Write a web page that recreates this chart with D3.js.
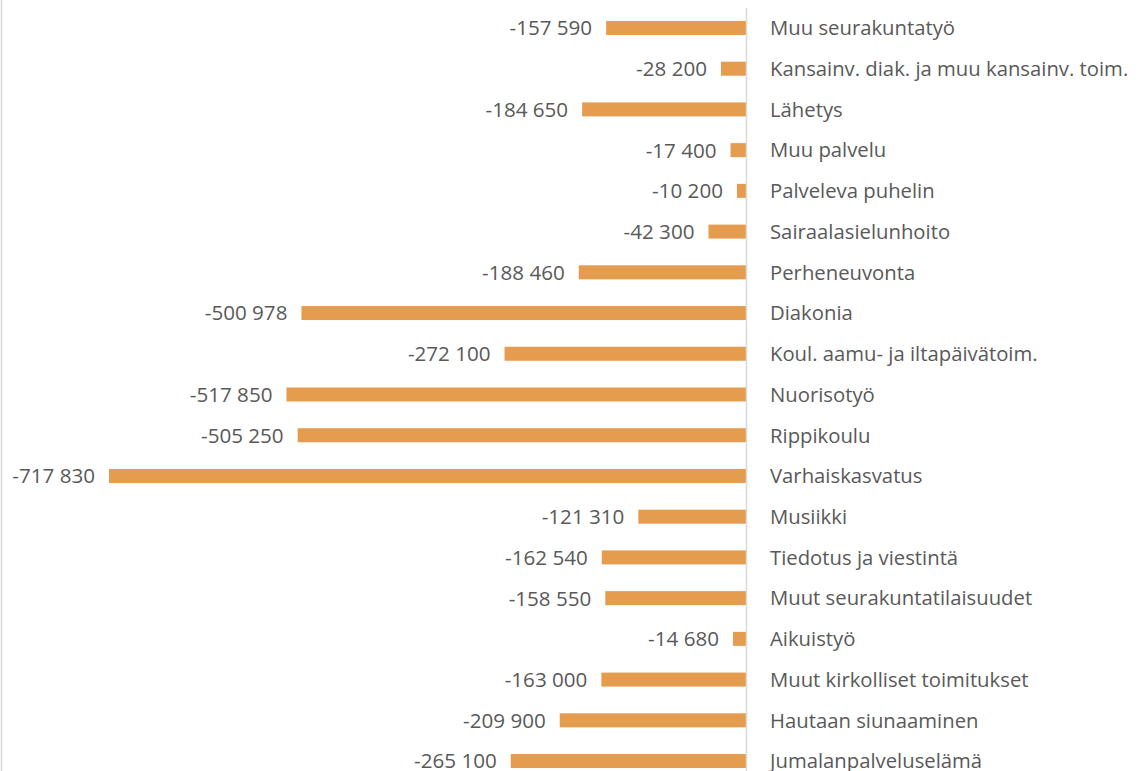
<!DOCTYPE html>
<html><head><meta charset="utf-8">
<script src="https://cdn.jsdelivr.net/npm/d3@7"></script>
<style>body{margin:0;background:#fff;overflow:hidden}</style>
</head><body>
<svg id="c" width="1141" height="771"></svg>
<script>
const categories = ["Muu seurakuntatyö","Kansainv. diak. ja muu kansainv. toim.","Lähetys","Muu palvelu","Palveleva puhelin","Sairaalasielunhoito","Perheneuvonta","Diakonia","Koul. aamu- ja iltapäivätoim.","Nuorisotyö","Rippikoulu","Varhaiskasvatus","Musiikki","Tiedotus ja viestintä","Muut seurakuntatilaisuudet","Aikuistyö","Muut kirkolliset toimitukset","Hautaan siunaaminen","Jumalanpalveluselämä"];
const values = [-157590,-28200,-184650,-17400,-10200,-42300,-188460,-500978,-272100,-517850,-505250,-717830,-121310,-162540,-158550,-14680,-163000,-209900,-265100];

const svg = d3.select("#c");
const x = d3.scaleLinear().domain([-717830, 0]).range([109, 746]);
const y = d3.scaleBand().domain(categories).range([7.6, 781.4]).paddingInner(0.656).paddingOuter(0.328);
const fmt = v => "-" + d3.format(",")(Math.abs(v)).replace(/,/g, " ");
const font = "'Open Sans', sans-serif";

svg.append("line").attr("x1",1.5).attr("x2",1.5).attr("y1",0).attr("y2",771).attr("stroke","#d9d9d9").attr("stroke-width",1.5);

svg.selectAll("rect.bar").data(values).join("rect").attr("class","bar")
  .attr("x", d => x(d)).attr("width", d => x(0) - x(d))
  .attr("y", (d,i) => y(categories[i])).attr("height", y.bandwidth())
  .attr("fill", "#e69c4f");

svg.append("line").attr("x1",x(0)+0.5).attr("x2",x(0)+0.5).attr("y1",8).attr("y2",771).attr("stroke","#d9d9d9").attr("stroke-width",1.5);

svg.selectAll("text.val").data(values).join("text").attr("class","val")
  .attr("x", d => x(d) - 14).attr("y", (d,i) => y(categories[i]) + y.bandwidth()/2)
  .attr("dy","0.36em").attr("text-anchor","end")
  .attr("font-family", font).attr("font-size", 20.6).attr("fill","#595959")
  .text(fmt);

svg.selectAll("text.cat").data(categories).join("text").attr("class","cat")
  .attr("x", x(0) + 24).attr("y", d => y(d) + y.bandwidth()/2)
  .attr("dy","0.36em").attr("text-anchor","start")
  .attr("font-family", font).attr("font-size", 20.3).attr("fill","#595959")
  .text(d => d);
</script>
</body></html>
